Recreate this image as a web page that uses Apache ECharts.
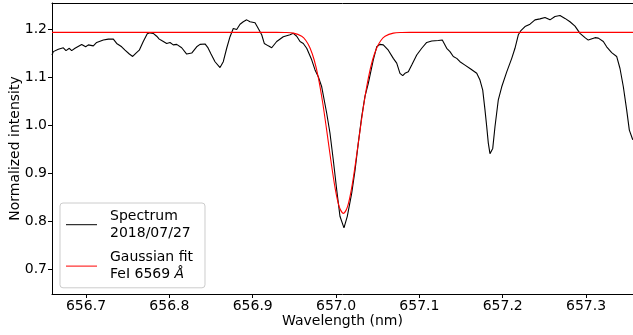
<!DOCTYPE html>
<html>
<head>
<meta charset="utf-8">
<script src="https://cdn.jsdelivr.net/npm/echarts@6/dist/echarts.min.js"></script>
<style>html,body{margin:0;padding:0;background:#fff}#c{width:633px;height:335px}</style>
</head>
<body>
<div id="c"></div>
<script>
// Observed spectrum (wavelength nm, normalized intensity)
var specWl = [656.6592,656.6608,656.6668,656.6728,656.6760,656.6800,656.6828,656.6868,656.6948,656.6996,
656.7028,656.7088,656.7128,656.7208,656.7268,656.7328,656.7368,656.7428,656.7468,656.7520,
656.7560,656.7600,656.7639,656.7687,656.7735,656.7768,656.7807,656.7848,656.7879,656.7908,
656.7968,656.8008,656.8047,656.8088,656.8148,656.8208,656.8268,656.8328,656.8368,656.8428,
656.8460,656.8500,656.8548,656.8608,656.8647,656.8688,656.8728,656.8767,656.8808,656.8848,
656.8887,656.8928,656.8968,656.9028,656.9067,656.9108,656.9139,656.9187,656.9228,656.9288,
656.9367,656.9448,656.9487,656.9528,656.9568,656.9607,656.9648,656.9708,656.9748,656.9787,
656.9828,656.9888,656.9927,656.9967,657.0008,657.0047,657.0095,657.0135,657.0188,657.0228,
657.0267,657.0308,657.0347,657.0387,657.0447,657.0488,657.0527,657.0567,657.0627,657.0687,
657.0728,657.0767,657.0800,657.0827,657.0867,657.0908,657.0968,657.1028,657.1088,657.1148,
657.1227,657.1275,657.1328,657.1367,657.1407,657.1448,657.1487,657.1547,657.1607,657.1688,
657.1727,657.1760,657.1787,657.1808,657.1827,657.1847,657.1880,657.1907,657.1947,657.1988,
657.2048,657.2108,657.2147,657.2187,657.2215,657.2267,657.2327,657.2387,657.2447,657.2507,
657.2567,657.2627,657.2687,657.2747,657.2807,657.2867,657.2927,657.2987,657.3026,657.3107,
657.3147,657.3207,657.3247,657.3307,657.3367,657.3407,657.3447,657.3487,657.3519,657.3560];
var specI = [1.146,1.153,1.158,1.161,1.155,1.160,1.155,1.160,1.168,1.163,
1.167,1.165,1.172,1.177,1.179,1.179,1.170,1.163,1.156,1.148,
1.143,1.150,1.156,1.174,1.190,1.192,1.191,1.185,1.179,1.176,
1.170,1.172,1.167,1.168,1.161,1.148,1.150,1.163,1.168,1.169,
1.162,1.148,1.132,1.120,1.132,1.160,1.184,1.201,1.199,1.210,
1.215,1.219,1.215,1.213,1.201,1.188,1.170,1.165,1.161,1.174,
1.184,1.188,1.191,1.185,1.174,1.170,1.160,1.136,1.115,1.101,
1.080,1.025,0.984,0.928,0.866,0.811,0.787,0.811,0.859,0.907,
0.963,1.018,1.060,1.087,1.136,1.163,1.168,1.167,1.156,1.139,
1.129,1.108,1.103,1.108,1.111,1.125,1.146,1.160,1.172,1.175,
1.176,1.177,1.160,1.153,1.143,1.139,1.132,1.125,1.118,1.108,
1.094,1.073,1.032,0.997,0.963,0.941,0.952,0.997,1.053,1.080,
1.111,1.139,1.160,1.188,1.196,1.205,1.210,1.219,1.221,1.224,
1.219,1.226,1.228,1.222,1.215,1.206,1.191,1.182,1.177,1.182,
1.181,1.174,1.163,1.151,1.143,1.118,1.080,1.032,0.990,0.970];

// Gaussian fit curve
var fitWl = [656.6592,656.9288,656.9388,656.9488,656.9588,656.9638,656.9688,656.9738,656.9788,656.9838,
656.9888,656.9938,656.9988,657.0038,657.0088,657.0138,657.0188,657.0238,657.0288,657.0338,
657.0388,657.0438,657.0488,657.0538,657.0588,657.0688,657.0788,657.0888,657.3563];
var fitI = [1.193,1.193,1.1928,1.1915,1.1849,1.1762,1.1607,1.1356,1.0985,1.0489,
0.9895,0.9268,0.8705,0.8311,0.817,0.8311,0.8705,0.9268,0.9895,1.0489,
1.0985,1.1356,1.1607,1.1762,1.1849,1.1915,1.1928,1.193,1.193];

var xTicks = [656.7,656.8,656.9,657.0,657.1,657.2,657.3];
var yTicks = [0.7,0.8,0.9,1.0,1.1,1.2];

var seriesNames = ['Spectrum\n2018/07/27', 'Gaussian fit\nFeI 6569 Å'];

function pairs(a, b){ return a.map(function(v,i){ return [v, b[i]]; }); }

var FONT = 'DejaVu Sans';
var chart = echarts.init(document.getElementById('c'), null, {renderer:'canvas'});
chart.setOption({
  animation: false,
  backgroundColor: '#ffffff',
  textStyle: {fontFamily: FONT},
  grid: {left: 52, top: 3, right: 0, bottom: 41, containLabel: false, outerBoundsMode: 'none'},
  xAxis: [{
    type: 'value', min: 656.6592, max: 657.3563,
    name: 'Wavelength (nm)', nameLocation: 'middle', nameGap: 20, nameMoveOverlap: false,
    nameTextStyle: {fontSize: 14, color: '#000', fontFamily: FONT},
    axisLine: {show: true, onZero: false, lineStyle: {color: '#000', width: 1}},
    axisTick: {show: true, inside: false, length: 4, customValues: xTicks, lineStyle: {color: '#000'}},
    axisLabel: {show: true, fontSize: 14, color: '#000', fontFamily: FONT, margin: 5, customValues: xTicks,
      formatter: function(v){ return (+v).toFixed(1); }},
    splitLine: {show: false}
  }, {
    type: 'value', position: 'top', min: 656.6592, max: 657.3563,
    axisLine: {show: true, onZero: false, lineStyle: {color: '#000', width: 1}},
    axisTick: {show: false}, axisLabel: {show: false}, splitLine: {show: false}
  }],
  yAxis: {
    type: 'value', min: 0.6496, max: 1.254,
    name: 'Normalized intensity', nameLocation: 'middle', nameGap: 30, nameMoveOverlap: false,
    nameTextStyle: {fontSize: 14, color: '#000', fontFamily: FONT},
    axisLine: {show: true, onZero: false, lineStyle: {color: '#000', width: 1}},
    axisTick: {show: true, inside: false, length: 4, customValues: yTicks, lineStyle: {color: '#000'}},
    axisLabel: {show: true, fontSize: 14, color: '#000', fontFamily: FONT, margin: 5, customValues: yTicks,
      formatter: function(v){ return (+v).toFixed(1); }},
    splitLine: {show: false}
  },
  legend: {
    show: true, orient: 'vertical', left: 60, top: 203,
    itemWidth: 31, itemHeight: 1, icon: 'rect', itemGap: 8,
    padding: [5, 12, 5, 6],
    backgroundColor: 'rgba(255,255,255,0.8)', borderColor: '#cccccc', borderWidth: 1, borderRadius: 3,
    data: seriesNames,
    formatter: function(n){ return n.replace('Å', '{i|Å}'); },
    textStyle: {fontSize: 14, color: '#000', fontFamily: FONT, lineHeight: 16.7, padding: [0,0,0,8],
      rich: {i: {fontSize: 14, fontStyle: 'italic', fontFamily: FONT, color: '#000', lineHeight: 16.7}}}
  },
  series: [{
    name: seriesNames[0], type: 'line', data: pairs(specWl, specI),
    showSymbol: false, symbol: 'none', smooth: false,
    lineStyle: {color: '#000000', width: 1.1}, itemStyle: {color: '#000000'}
  }, {
    name: seriesNames[1], type: 'line', data: pairs(fitWl, fitI),
    showSymbol: false, symbol: 'none', smooth: 0.3,
    lineStyle: {color: '#ff0000', width: 1.1}, itemStyle: {color: '#ff0000'}
  }]
});
</script>
</body>
</html>
